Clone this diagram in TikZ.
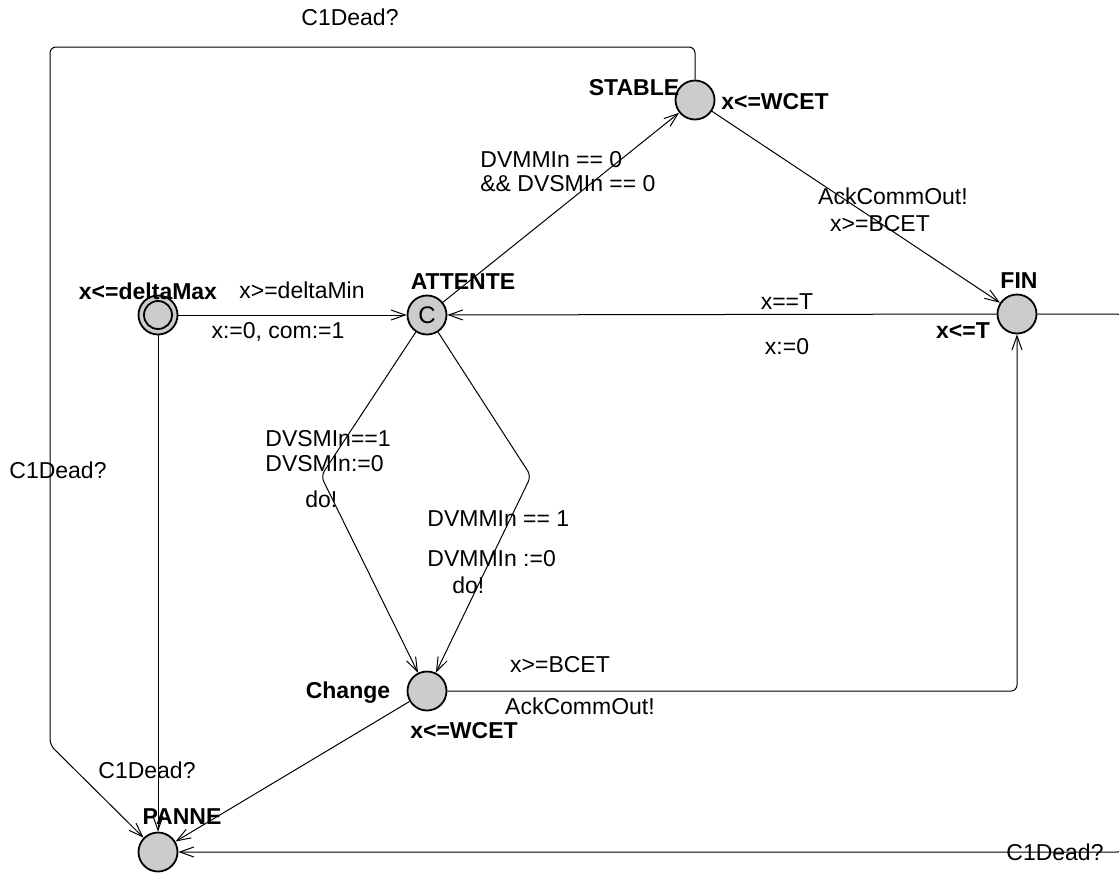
\documentclass[tikz,border=0pt]{standalone}
\usepackage{fontspec}
\setmainfont{Liberation Sans}
\usepackage{tikz}
\usetikzlibrary{arrows.meta, positioning, calc}

\begin{document}
\begin{tikzpicture}[x=0.5pt, y=-0.5pt,
    loc/.style={circle, draw, line width=0.9pt, fill=black!20, minimum size=19.5pt, inner sep=0pt,
                font=\fontsize{12}{13}\selectfont},
    trans/.style={draw, line width=0.5pt, rounded corners=3pt,
                  -{Straight Barb[length=7pt, width=5pt]}},
    lbl/.style={font=\fontsize{11.5}{13}\selectfont, inner sep=0pt},
    nm/.style={font=\fontsize{11.5}{13}\selectfont\bfseries, inner sep=0pt}]

    \useasboundingbox (0,0) rectangle (1119,873);

    % Locations
    \node[loc, path picture={\draw[line width=0.9pt] (path picture bounding box.center) circle (7pt);}]
        (init) at (158,315) {};
    \node[loc] (attente) at (427,315) {C};
    \node[loc] (stable) at (695,100) {};
    \node[loc] (fin) at (1017,314) {};
    \node[loc] (change) at (427,691) {};
    \node[loc] (panne) at (158,852) {};

    % Names and invariants
    \node[nm] (iinit) at (148,291) {x<=deltaMax};
    \node[nm] (natt) at (463,282) {ATTENTE};
    \node[nm] (nstable) at (634,88) {STABLE};
    \node[nm] (istable) at (775,102) {x<=WCET};
    \node[nm] (nfin) at (1019,281) {FIN};
    \node[nm] (ifin) at (963,331) {x<=T};
    \node[nm] (nchange) at (348,693) {Change};
    \node[nm] (ichange) at (464,731) {x<=WCET};
    \node[nm] (npanne) at (182,817) {PANNE};

    % Bend points
    \coordinate (bendl) at (321,476);
    \coordinate (bendr) at (531,476);
    \coordinate (topl) at (50,47);
    \coordinate (botl) at (50,745);
    \coordinate (topr) at (1123,314);
    \coordinate (botr) at (1123,852);

    % Transitions
    \draw[trans] (init) -- (attente);
    \draw[trans] (attente) -- (stable);
    \draw[trans] (stable) -- (fin);
    \draw[trans] (fin) -- (attente);
    \draw[trans] (attente) -- (bendl) -- (change);
    \draw[trans] (attente) -- (bendr) -- (change);
    \draw[trans] (change) -- (change -| fin) -- (fin);
    \draw[trans] (init) -- (panne);
    \draw[trans] (change) -- (panne);
    \draw[trans] (stable) -- (stable |- topl) -- (topl) -- (botl) -- (panne);
    \draw[trans] (fin) -- (topr) -- (botr) -- (panne);

    % Guards, syncs, updates
    \node[lbl] (s1) at (350,17) {C1Dead?};
    \node[lbl] (g1) at (302,290) {x>=deltaMin};
    \node[lbl] (u1) at (278,332) {x:=0, com:=1};
    \node[lbl, anchor=west] (g2) at (480,160) {DVMMIn == 0};
    \node[lbl, anchor=west] (g2b) at (480,184) {\&\& DVSMIn == 0};
    \node[lbl] (s3) at (893,196) {AckCommOut!};
    \node[lbl] (g3) at (880,224) {x>=BCET};
    \node[lbl] (g4) at (787,302) {x==T};
    \node[lbl] (u4) at (787,347) {x:=0};
    \node[lbl, anchor=west] (g5) at (265,439) {DVSMIn==1};
    \node[lbl, anchor=west] (u5) at (265,464) {DVSMIn:=0};
    \node[lbl, anchor=west] (s5) at (305,499) {do!};
    \node[lbl] (s6) at (58,470) {C1Dead?};
    \node[lbl, anchor=west] (g7) at (427,519) {DVMMIn == 1};
    \node[lbl, anchor=west] (u7) at (427,559) {DVMMIn :=0};
    \node[lbl, anchor=west] (s7) at (452,585) {do!};
    \node[lbl] (g8) at (560,665) {x>=BCET};
    \node[lbl] (s8) at (580,706) {AckCommOut!};
    \node[lbl] (s9) at (147,770) {C1Dead?};
    \node[lbl] (s10) at (1055,852) {C1Dead?};

\end{tikzpicture}
\end{document}
